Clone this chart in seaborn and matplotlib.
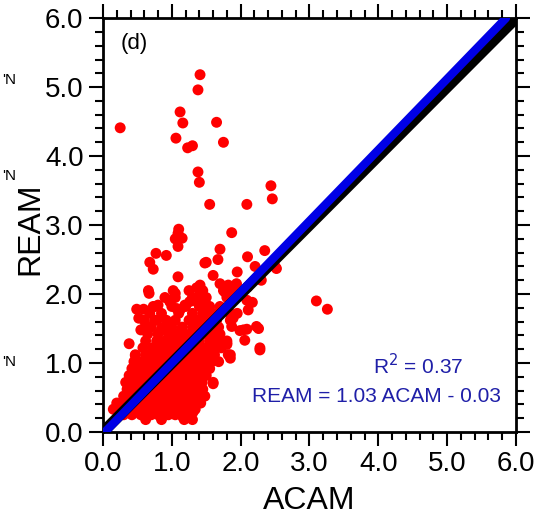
import matplotlib
matplotlib.use("Agg")
import matplotlib.pyplot as plt
import seaborn as sns
import pandas as pd
from matplotlib.ticker import MultipleLocator, FormatStrFormatter

# ---- data ----
dense_rows_y = [0.18, 0.25, 0.33, 0.42, 0.52, 0.62, 0.72, 0.82, 0.92, 1.02,
                1.12, 1.22, 1.32, 1.42, 1.52, 1.62, 1.72, 1.82, 1.95, 2.05]
dense_rows_x = [
    [0.62, 0.85, 1.18, 1.30],
    [0.30, 0.42, 0.55, 0.70, 0.80, 0.95, 1.05, 1.15, 1.25],
    [0.15, 0.25, 0.38, 0.50, 0.62, 0.75, 0.88, 1.00, 1.12, 1.22, 1.34],
    [0.20, 0.32, 0.45, 0.58, 0.70, 0.82, 0.95, 1.08, 1.20, 1.32, 1.42],
    [0.30, 0.42, 0.55, 0.68, 0.80, 0.92, 1.04, 1.16, 1.28, 1.38, 1.48],
    [0.35, 0.48, 0.60, 0.72, 0.85, 0.98, 1.10, 1.22, 1.34, 1.45],
    [0.33, 0.45, 0.58, 0.70, 0.82, 0.95, 1.08, 1.20, 1.32, 1.44, 1.60],
    [0.38, 0.50, 0.62, 0.75, 0.88, 1.00, 1.12, 1.25, 1.37, 1.50],
    [0.42, 0.55, 0.68, 0.80, 0.92, 1.05, 1.18, 1.30, 1.42, 1.55],
    [0.45, 0.58, 0.70, 0.82, 0.95, 1.08, 1.20, 1.33, 1.45, 1.58, 1.68],
    [0.47, 0.62, 0.75, 0.88, 1.00, 1.12, 1.25, 1.38, 1.50, 1.62, 1.85],
    [0.58, 0.72, 0.85, 0.98, 1.10, 1.22, 1.35, 1.48, 1.60, 1.72],
    [0.62, 0.78, 0.90, 1.02, 1.15, 1.28, 1.40, 1.55, 1.68, 1.80],
    [0.65, 0.80, 0.95, 1.08, 1.20, 1.32, 1.45, 1.58, 1.70],
    [0.70, 0.88, 1.00, 1.15, 1.30, 1.42, 1.55, 1.68],
    [0.60, 0.75, 0.92, 1.05, 1.25, 1.38, 1.52, 1.65, 1.85],
    [0.68, 0.85, 1.10, 1.30, 1.45, 1.60, 1.95],
    [0.76, 1.00, 1.20, 1.40, 1.55, 1.70],
    [0.90, 1.05, 1.30, 1.50, 1.80],
    [0.66, 1.02, 1.25, 1.45, 1.75],
]

sparse_acam = [0.38, 0.47, 0.49, 0.67, 0.97, 1.12, 1.36, 1.41, 1.60, 1.80, 1.85,
               2.06, 1.99, 2.09, 2.26, 2.28, 2.28, 2.17, 2.00, 1.09, 1.41, 1.60,
               1.95, 2.21, 2.52, 2.50, 1.48, 1.67, 1.50, 0.68, 0.73, 2.30, 2.10,
               0.77, 0.92, 1.70, 2.10, 2.35, 1.87, 1.10, 1.09, 1.05, 1.15, 1.09,
               1.31, 1.16, 0.25, 1.41, 1.38, 1.12, 1.16, 1.06, 1.23, 1.30, 1.65,
               1.75, 1.38, 1.40, 1.55, 2.09, 2.44, 2.46, 3.10, 3.26,
               1.36, 1.41, 1.05, 0.97, 1.70, 1.82, 1.94, 1.77, 1.89, 1.99, 0.59,
               0.73, 0.80, 1.07, 1.19, 1.26, 1.36, 1.46, 1.51, 2.09, 2.11, 1.75,
               1.85, 2.04, 2.23, 1.80, 1.82, 1.89, 1.87, 0.52, 0.62, 0.78, 0.85,
               0.55]
sparse_ream = [1.28, 1.11, 1.78, 2.01, 1.91, 1.77, 0.51, 0.61, 0.70, 1.27, 1.07,
               1.33, 1.47, 1.49, 1.50, 1.19, 1.22, 1.88, 2.00, 2.25, 2.13, 2.27,
               2.32, 2.40, 2.37, 2.40, 2.45, 2.50, 2.46, 2.46, 2.36, 2.20, 2.10,
               2.59, 2.56, 2.65, 2.54, 2.63, 2.89, 2.94, 2.88, 2.80, 2.81, 2.69,
               0.29, 0.22, 4.41, 5.18, 4.96, 4.64, 4.48, 4.26, 4.12, 4.15, 4.49,
               4.20, 3.77, 3.62, 3.30, 3.30, 3.57, 3.38, 1.90, 1.78,
               2.09, 1.99, 2.01, 1.89, 2.15, 2.13, 2.15, 2.03, 2.03, 1.99, 1.78,
               1.82, 1.84, 1.79, 1.84, 1.89, 1.89, 1.84, 1.77, 1.91, 1.77, 1.77,
               1.72, 1.48, 1.53, 1.29, 1.12, 1.65, 1.53, 1.65, 1.55, 1.62, 1.50,
               1.48]

one_to_one = [0.0, 6.0]
reg_slope, reg_intercept = 1.03, -0.03
r2_text = "R$^2$ = 0.37"
eq_text = "REAM = 1.03 ACAM - 0.03"
ticks = [0.0, 1.0, 2.0, 3.0, 4.0, 5.0, 6.0]

acam = [x for row in dense_rows_x for x in row] + sparse_acam
ream = [y for y, row in zip(dense_rows_y, dense_rows_x) for _ in row] + sparse_ream
df = pd.DataFrame({"ACAM": acam, "REAM": ream})

reg_x = [0.0, (6.0 - reg_intercept) / reg_slope]
reg_y = [reg_slope * v + reg_intercept for v in reg_x]

# ---- plot ----
sns.set_style("white")
plt.rcParams["font.family"] = ["Liberation Sans", "DejaVu Sans"]
plt.rcParams["text.color"] = "black"
plt.rcParams["axes.labelcolor"] = "black"
plt.rcParams["xtick.color"] = "black"
plt.rcParams["ytick.color"] = "black"

fig = plt.figure(figsize=(5.42, 5.18), dpi=100)
ax = fig.add_axes([0.190, 0.166, 0.762, 0.799])

sns.scatterplot(data=df, x="ACAM", y="REAM", ax=ax, color="#ff0000",
                s=62, edgecolor="none", linewidth=0, zorder=2)
sns.lineplot(x=one_to_one, y=one_to_one, ax=ax, color="black", lw=8, zorder=3)
sns.lineplot(x=reg_x, y=reg_y, ax=ax, color="#0000e6", lw=6, zorder=4)

ax.set_xlim(0, 6)
ax.set_ylim(0, 6)
ax.set_xticks(ticks)
ax.set_yticks(ticks)
ax.xaxis.set_major_formatter(FormatStrFormatter("%.1f"))
ax.yaxis.set_major_formatter(FormatStrFormatter("%.1f"))
ax.xaxis.set_minor_locator(MultipleLocator(0.2))
ax.yaxis.set_minor_locator(MultipleLocator(0.2))
ax.tick_params(which="both", direction="out", top=True, right=True,
               bottom=True, left=True, width=1.5, colors="black",
               labelcolor="black", labelsize=20)
ax.tick_params(which="major", length=10, pad=4)
ax.tick_params(which="minor", length=6)
for sp in ax.spines.values():
    sp.set_visible(True)
    sp.set_linewidth(2)
    sp.set_color("black")

ax.set_xlabel("ACAM", fontsize=23, labelpad=6, color="black")
ax.set_ylabel("REAM", fontsize=23, color="black")
ax.yaxis.set_label_coords(-0.14, 0.49)

ax.text(0.043, 0.965, "(d)", transform=ax.transAxes, fontsize=16,
        va="top", ha="left", color="black")


def fig_text(px, py, s, **kw):
    fig.text(px / 542, 1 - py / 518, s, **kw)


blue_txt = "#1f1fa8"
fig_text(418, 366, r2_text, fontsize=15, color=blue_txt, ha="center", va="center")
fig_text(376, 397, eq_text, fontsize=15, color=blue_txt, ha="center", va="center",
         bbox=dict(facecolor="white", edgecolor="none", pad=1))
for py in [80, 176, 362]:
    fig_text(2, py, "'N", fontsize=11, color="black", ha="left", va="center")

fig.savefig("out.png", dpi=100)
